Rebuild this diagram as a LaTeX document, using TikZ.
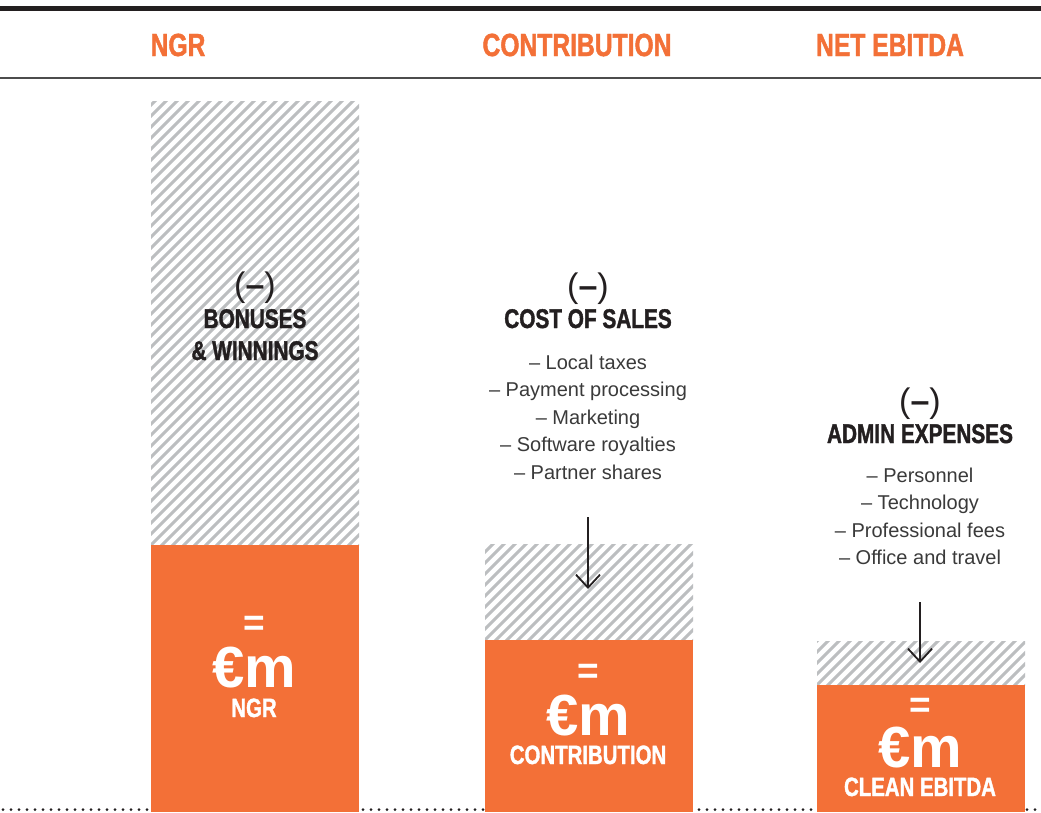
\documentclass[tikz,border=0pt]{standalone}
\usepackage{fontspec}
\setmainfont{Liberation Sans}
\newfontfamily\cond{Liberation Sans}[FakeStretch=0.77, BoldFeatures={FakeBold=1.4}]
\usetikzlibrary{arrows.meta}
\definecolor{orng}{HTML}{F37037}
\definecolor{hatchc}{HTML}{BCBEC0}
\definecolor{ink}{HTML}{231F20}
\definecolor{listc}{HTML}{3A3A3A}
\begin{document}
\begin{tikzpicture}[x=1pt,y=-1pt,
  head/.style={font=\cond\bfseries\fontsize{32}{32}\selectfont, text=orng, anchor=base, inner sep=0},
  sect/.style={font=\cond\bfseries\fontsize{27}{27}\selectfont, text=ink, anchor=base, inner sep=0, text height=19pt, text depth=0pt},
  minus/.style={font=\fontsize{34}{34}\selectfont, text=ink, anchor=base, inner sep=0},
  lst/.style={font=\fontsize{20}{20}\selectfont, text=listc, anchor=base, inner sep=0},
  eqs/.style={font=\bfseries\fontsize{37}{37}\selectfont, text=white, anchor=base, inner sep=0, text height=18pt, text depth=0pt},
  euro/.style={font=\bfseries\fontsize{58}{58}\selectfont, text=white, anchor=base, inner sep=0, text height=42pt, text depth=0pt},
  blab/.style={font=\cond\bfseries\fontsize{26.5}{26.5}\selectfont, text=white, anchor=base, inner sep=0, text height=19pt, text depth=0pt},
  arr/.style={draw=ink, line width=1.8pt, -{Straight Barb[length=13pt,width=24pt]}},
  hatchline/.style={draw=hatchc, line width=3pt}
]
\useasboundingbox (0,0) rectangle (1041,812);
\fill[white] (0,0) rectangle (1041,812);

% top rules
\draw[ink, line width=5pt] (0,8.5) -- (1041,8.5);
\draw[black!70, line width=1.2pt] (0,78) -- (1041,78);

% dotted base line
\draw[ink, line width=3pt, line cap=round, dash pattern=on 0pt off 8pt] (3,809.5) -- (1041,809.5);

% hatched parts
\foreach \xa/\ya/\xb/\yb in {151/101/359/545, 485/544/693/640, 817/641/1025/685}{
  \begin{scope}
    \clip (\xa,\ya) rectangle (\xb,\yb);
    \foreach \k in {-500,-489,...,230}
      \draw[hatchline] (\xa+\k,\yb+5) -- ++(520,-520);
  \end{scope}
}

% orange bars
\fill[orng] (151,545) rectangle (359,812);
\fill[orng] (485,640) rectangle (693,812);
\fill[orng] (817,685) rectangle (1025,812);

% headings
\node[head] (h1) at (178,56) {NGR};
\node[head] (h2) at (577,56) {CONTRIBUTION};
\node[head] (h3) at (890,56) {NET EBITDA};

% bar 1 label
\node[minus] (m1) at (255,296) {(\textbf{–})};
\node[sect] (s1a) at (255,328) {BONUSES};
\node[sect] (s1b) at (255,360) {\& WINNINGS};

% bar 2 label
\node[minus] (m2) at (588,297) {(\textbf{–})};
\node[sect] (s2) at (588,328) {COST OF SALES};
\foreach \t [count=\i] in {Local taxes, Payment processing, Marketing, Software royalties, Partner shares}
  \node[lst] (c\i) at (588,369+27.5*\i-27.5) {– \t};

% bar 3 label
\node[minus] (m3) at (920,412) {(\textbf{–})};
\node[sect] (s3) at (920,443) {ADMIN EXPENSES};
\foreach \t [count=\i] in {Personnel, Technology, Professional fees, Office and travel}
  \node[lst] (d\i) at (920,482+27.5*\i-27.5) {– \t};

% arrows
\coordinate (a2s) at (588,517);
\coordinate (a2e) at (588,589);
\draw[arr] (a2s) -- (a2e);
\coordinate (a3s) at (920,602);
\coordinate (a3e) at (920,663);
\draw[arr] (a3s) -- (a3e);

% bar values
\node[eqs] (e1) at (254,635) {=};
\node[euro] (v1) at (254,687) {€m};
\node[blab] (l1) at (254,717) {NGR};

\node[eqs] (e2) at (588,683) {=};
\node[euro] (v2) at (588,735) {€m};
\node[blab] (l2) at (588,764) {CONTRIBUTION};

\node[eqs] (e3) at (920,717) {=};
\node[euro] (v3) at (920,767) {€m};
\node[blab] (l3) at (920,796) {CLEAN EBITDA};
\end{tikzpicture}
\end{document}
